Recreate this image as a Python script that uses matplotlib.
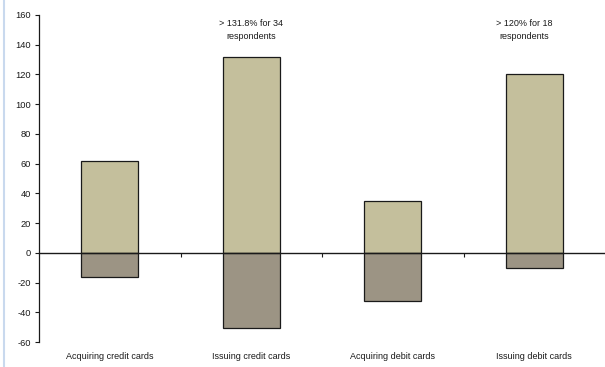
import matplotlib
matplotlib.use("Agg")
import matplotlib.pyplot as plt
from matplotlib.lines import Line2D
import numpy as np

plt.rcParams['font.family'] = ['Liberation Sans', 'DejaVu Sans']
plt.rcParams['axes.unicode_minus'] = False

categories = ["Acquiring credit cards", "Issuing credit cards",
              "Acquiring debit cards", "Issuing debit cards"]
positive = [61.6, 132.0, 34.7, 120.0]
negative = [-16.0, -50.5, -32.5, -10.5]
notes = {1: "> 131.8% for 34\nrespondents", 3: "> 120% for 18\nrespondents"}
note_offsets = {1: 0.0, 3: -0.07}

fig = plt.figure(figsize=(6.05, 3.67), dpi=100)
ax = fig.add_axes([39/605, 1 - 342/367, 1 - 39/605, (342 - 15)/367])

x = np.arange(len(categories)) + 0.5
ax.bar(x, positive, width=0.4, color="#c4bf9c", edgecolor="#1a1a1a", linewidth=0.9, zorder=2)
ax.bar(x, negative, width=0.4, color="#9c9484", edgecolor="#1a1a1a", linewidth=0.9, zorder=2)

ax.set_xlim(0, len(categories))
ax.set_ylim(-60, 160)
ax.set_yticks(np.arange(-60, 161, 20))
ax.tick_params(axis='y', direction='out', length=3, width=0.8, labelsize=6.7, pad=3, colors="#1a1a1a")

for s in ['top', 'right']:
    ax.spines[s].set_visible(False)
ax.spines['left'].set_linewidth(0.9)
ax.spines['left'].set_color("#1a1a1a")
ax.spines['bottom'].set_position(('data', 0))
ax.spines['bottom'].set_linewidth(1.0)
ax.spines['bottom'].set_color("#1a1a1a")
ax.spines['bottom'].set_zorder(3)

ax.set_xticks(np.arange(1, len(categories)))
ax.set_xticklabels([])
ax.tick_params(axis='x', direction='out', length=3, width=0.8, colors="#1a1a1a")

trans = matplotlib.transforms.blended_transform_factory(ax.transData, ax.transAxes)
for xi, lab in zip(x, categories):
    ax.text(xi, -0.045, lab, transform=trans, ha='center', va='center', fontsize=6.5, color="#1a1a1a")

for i, txt in notes.items():
    ax.text(x[i] + note_offsets[i], 150, txt, ha='center', va='center', fontsize=6.5,
            color="#1a1a1a", linespacing=1.65)

fig.add_artist(Line2D([3.5/605, 3.5/605], [0, 1], transform=fig.transFigure, color="#c9d9ee", linewidth=1.5))

fig.savefig("out.png", dpi=100)
